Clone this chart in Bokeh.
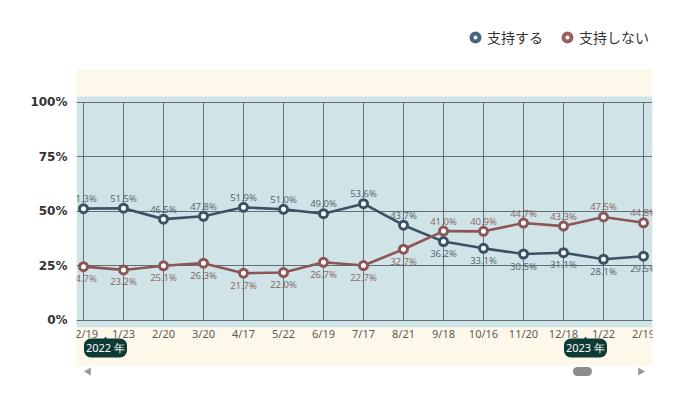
import math
from bokeh.plotting import figure
from bokeh.models import Range1d, FixedTicker, PrintfTickFormatter, Legend, LegendItem, Label
from bokeh.core.properties import value
from bokeh.embed import file_html
from bokeh.resources import INLINE

# ---- data ----
dates = ["12/19", "1/23", "2/20", "3/20", "4/17", "5/22", "6/19", "7/17",
         "8/21", "9/18", "10/16", "11/20", "12/18", "1/22", "2/19"]
support = [51.3, 51.5, 46.5, 47.8, 51.9, 51.0, 49.0, 53.6,
           43.7, 36.2, 33.1, 30.5, 31.1, 28.1, 29.5]
oppose = [24.7, 23.2, 25.1, 26.3, 21.7, 22.0, 26.7, 25.2,
          32.7, 41.0, 40.9, 44.7, 43.3, 47.5, 44.8]
support_text = ["51.3%", "51.5%", "46.5%", "47.8%", "51.9%", "51.0%", "49.0%", "53.6%",
                "43.7%", "36.2%", "33.1%", "30.5%", "31.1%", "28.1%", "29.5%"]
oppose_text = ["24.7%", "23.2%", "25.1%", "26.3%", "21.7%", "22.0%", "26.7%", "22.7%",
               "32.7%", "41.0%", "40.9%", "44.7%", "43.3%", "47.5%", "44.8%"]
series_names = ["支持する", "支持しない"]
years = ["2022 年", "2023 年"]
year_start_index = [1, 13]
y_ticks = [0, 25, 50, 75, 100]

idx = list(range(len(dates)))

BLUE = "#3c5264"
RED = "#8c5556"
GRID = "#5e7076"
BG_BLUE = "#d0e4e8"
CREAM = "#fdf8ea"
BADGE = "#0e3a35"

p = figure(width=678, height=393, output_backend="svg", toolbar_location=None,
           x_range=Range1d(-0.175, 14.225), y_range=Range1d(-29.82, 146.79),
           x_axis_location=None, min_border_left=76, min_border_right=26,
           min_border_top=0, min_border_bottom=8)
p.background_fill_color = "white"
p.border_fill_color = "white"
p.outline_line_color = None

x0, x1 = p.x_range.start, p.x_range.end
# background bands
p.quad(left=x0, right=x1, bottom=102.75, top=115.14, fill_color=CREAM, line_color=None, level="image")
p.quad(left=x0, right=x1, bottom=-3.2, top=102.75, fill_color=BG_BLUE, line_color=None, level="image")
p.quad(left=x0, right=x1, bottom=-20.6, top=-3.2, fill_color=CREAM, line_color=None, level="image")

# axes / grid
p.yaxis.ticker = FixedTicker(ticks=y_ticks)
p.yaxis.formatter = PrintfTickFormatter(format="%d%%")
p.yaxis.axis_line_color = None
p.yaxis.major_tick_line_color = None
p.yaxis.minor_tick_line_color = None
p.yaxis.major_tick_out = 0
p.yaxis.major_label_standoff = 9
p.yaxis.major_label_text_font = "DejaVu Sans"
p.yaxis.major_label_text_font_size = "12px"
p.yaxis.major_label_text_font_style = "bold"
p.yaxis.major_label_text_color = "#333333"
p.ygrid.ticker = FixedTicker(ticks=y_ticks)
p.ygrid.grid_line_color = GRID
p.ygrid.grid_line_width = 1
p.xgrid.visible = False

# vertical grid lines at each survey date
p.segment(x0=idx, y0=0, x1=idx, y1=100, line_color=GRID, line_width=1)

# series
p.line(idx, support, line_color=BLUE, line_width=2.6)
p.line(idx, oppose, line_color=RED, line_width=2.6)
p.scatter(idx, support, size=8, fill_color="white", line_color=BLUE, line_width=3)
p.scatter(idx, oppose, size=8, fill_color="white", line_color=RED, line_width=3)

# value labels
def labels(vals, other, texts, color):
    up = [i for i in idx if vals[i] >= other[i]]
    dn = [i for i in idx if vals[i] < other[i]]
    for sel, off in ((up, -10), (dn, 12)):
        p.text(x=[i for i in sel], y=[vals[i] for i in sel], text=[texts[i] for i in sel],
               text_align="center", text_baseline="middle", y_offset=off,
               text_font=value("Noto Sans"), text_font_size="9.5px", text_color=color)

labels(support, oppose, support_text, "#5a6773")
labels(oppose, support, oppose_text, "#8a6868")

# category labels
p.text(x=idx, y=-6.0, text=dates, text_align="center", text_baseline="middle",
       text_font=value("Noto Sans"), text_font_size="11px", text_color="#5a5a5a")

# year badges
for yr, s in zip(years, year_start_index):
    bx = s - 0.45
    p.scatter(x=[bx], y=[-8.9], marker="triangle", size=6, fill_color=BADGE, line_color=None)
    p.add_layout(Label(x=bx, y=-12.6, text=yr, text_align="center", text_baseline="middle",
                       text_color="white", text_font="Noto Sans", text_font_size="11px",
                       background_fill_color=BADGE, border_radius=7, padding=2))

# scrollbar chrome
p.scatter(x=[x0 + 0.3], y=[-23.4], marker="triangle", angle=math.pi / 2, size=8,
          fill_color="#9a9a9a", line_color=None)
p.scatter(x=[x1 - 0.3], y=[-23.4], marker="triangle", angle=-math.pi / 2, size=8,
          fill_color="#9a9a9a", line_color=None)
p.segment(x0=[12.35], y0=[-23.4], x1=[12.6], y1=[-23.4], line_color="#8c8c8c",
          line_width=9, line_cap="round")

# legend (swatch renderers placed outside the visible range)
lg1 = p.scatter(x=[x0 - 50], y=[0], fill_color="white", line_color="#4a6480", line_width=4)
lg2 = p.scatter(x=[x0 - 50], y=[0], fill_color="white", line_color="#9a6060", line_width=4)
legend = Legend(items=[LegendItem(label=series_names[0], renderers=[lg1]),
                       LegendItem(label=series_names[1], renderers=[lg2])],
                orientation="horizontal", location=(389, 338),
                glyph_width=20, glyph_height=20, label_standoff=2, spacing=14,
                padding=0, margin=0, border_line_color=None, background_fill_alpha=0,
                label_text_font="Noto Sans CJK JP", label_text_font_size="14px",
                label_text_color="#333333")
p.add_layout(legend)

open("out.html", "w").write(file_html(p, INLINE))
